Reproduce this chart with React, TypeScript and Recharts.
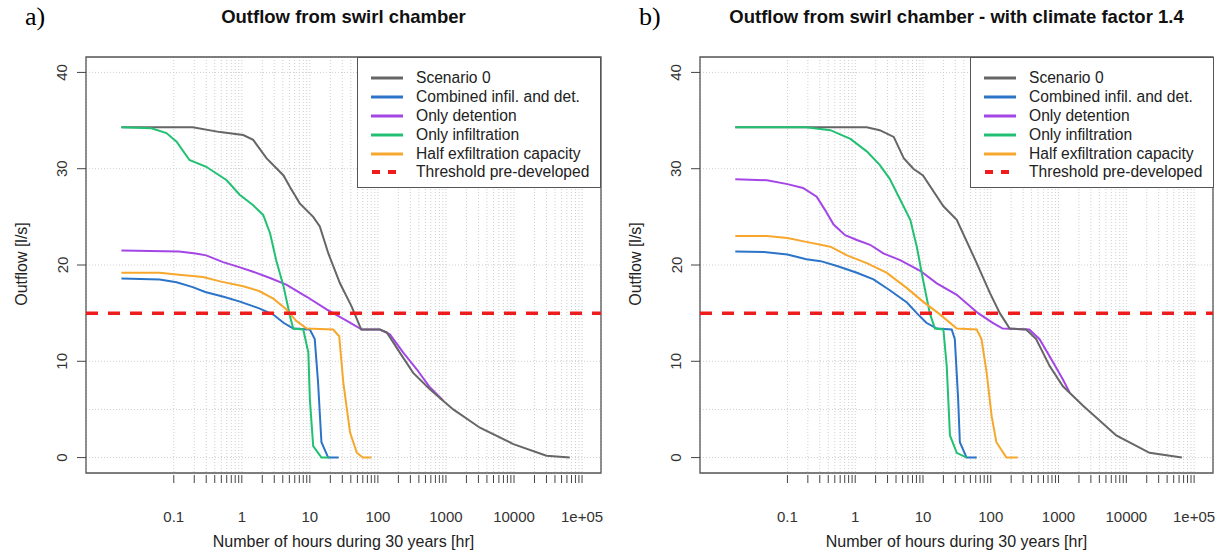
import React from 'react';
import { LineChart, Line, XAxis, YAxis, CartesianGrid, ReferenceLine, ReferenceArea, Legend } from 'recharts';

type Pt = [number, number];

// [hours, outflow l/s] read off panel a)
const scenario0A: Pt[] = [[0.017, 34.3], [0.19, 34.3], [0.48, 33.8], [1.05, 33.5], [1.47, 33.0], [2.3, 31.1], [4.1, 29.3], [5.1, 28.1], [7.1, 26.4], [11.2, 25.0], [14, 24.0], [18.7, 21.2], [27.7, 18.1], [41, 15.7], [57, 13.3], [107, 13.3], [135, 13.0], [210, 10.9], [330, 8.8], [580, 7.1], [1280, 5.0], [3160, 3.1], [9800, 1.4], [30000, 0.19], [66000, 0]];
const combinedA: Pt[] = [[0.017, 18.6], [0.062, 18.5], [0.11, 18.2], [0.19, 17.7], [0.29, 17.2], [0.54, 16.7], [0.94, 16.2], [1.8, 15.5], [2.9, 14.85], [4.1, 14.0], [5.7, 13.4], [10, 13.3], [11.8, 12.3], [13.2, 7.8], [14.8, 1.6], [18.6, 0], [26.5, 0]];
const detentionA: Pt[] = [[0.017, 21.5], [0.12, 21.4], [0.21, 21.2], [0.3, 21.0], [0.53, 20.3], [0.94, 19.75], [1.47, 19.3], [2.6, 18.65], [4.5, 17.96], [9, 16.7], [17.6, 15.4], [35, 14.2], [58, 13.3], [107, 13.3], [150, 12.8], [236, 10.9], [370, 9.2], [580, 7.3], [900, 5.95]];
const infiltrationA: Pt[] = [[0.017, 34.3], [0.047, 34.2], [0.078, 33.7], [0.11, 32.8], [0.17, 30.9], [0.3, 30.2], [0.6, 28.8], [0.93, 27.3], [1.47, 26.2], [2.06, 25.2], [2.6, 23.3], [3.2, 20.5], [4.1, 17.8], [5.1, 14.7], [5.7, 13.4], [8, 13.3], [9.5, 10.9], [10, 6.06], [11.2, 1.2], [14.8, 0], [19.4, 0]];
const halfA: Pt[] = [[0.017, 19.2], [0.062, 19.2], [0.12, 19.0], [0.27, 18.75], [0.48, 18.3], [1.05, 17.8], [1.8, 17.3], [2.9, 16.5], [4.5, 15.4], [6.3, 14.2], [9, 13.4], [22, 13.3], [27, 12.6], [31, 7.8], [39, 2.6], [49, 0.5], [60, 0], [80, 0]];

// panel b) climate factor 1.4
const scenario0B: Pt[] = [[0.017, 34.3], [1.48, 34.3], [2.3, 34.0], [3.7, 33.3], [5.2, 31.1], [7.2, 30.0], [10, 29.3], [20, 26.1], [31.5, 24.7], [62, 20.2], [97, 17.1], [136, 15.0], [190, 13.4], [333, 13.3], [467, 12.3], [740, 9.5], [1160, 7.4], [2280, 5.4], [7100, 2.3], [22000, 0.5], [66000, 0]];
const combinedB: Pt[] = [[0.017, 21.4], [0.045, 21.35], [0.1, 21.1], [0.19, 20.6], [0.31, 20.4], [0.54, 19.9], [1.06, 19.2], [1.86, 18.5], [3.2, 17.4], [5.8, 16.1], [8.1, 15.0], [11.2, 14.0], [16, 13.4], [26.5, 13.3], [29.5, 12.3], [33, 6.1], [35, 1.6], [44, 0], [62, 0]];
const detentionB: Pt[] = [[0.017, 28.9], [0.05, 28.8], [0.1, 28.4], [0.17, 28.0], [0.27, 27.1], [0.36, 25.7], [0.48, 24.2], [0.71, 23.1], [1.06, 22.6], [1.66, 22.1], [2.6, 21.2], [4.6, 20.5], [9.1, 19.4], [16, 18.1], [31.5, 16.9], [65, 15.0], [107, 14.0], [150, 13.4], [370, 13.3], [525, 12.3], [830, 9.9], [1160, 8.1], [1450, 6.8]];
const infiltrationB: Pt[] = [[0.017, 34.3], [0.19, 34.3], [0.43, 34.0], [0.85, 33.1], [1.48, 31.8], [2.3, 30.4], [3.2, 29.0], [4.6, 26.8], [6.5, 24.7], [8.1, 21.9], [10, 18.5], [12.6, 15.0], [15, 13.4], [20, 13.3], [22.4, 9.5], [25, 2.3], [31.5, 0.5], [44, 0]];
const halfB: Pt[] = [[0.017, 23.0], [0.05, 23.0], [0.1, 22.8], [0.19, 22.4], [0.43, 21.9], [0.76, 21.0], [1.48, 20.2], [2.9, 19.2], [5.8, 17.6], [10, 16.2], [17.6, 14.9], [31.5, 13.4], [62, 13.3], [73, 12.3], [87, 8.8], [103, 4.3], [121, 1.6], [170, 0], [250, 0]];

const seriesNames = ['Scenario 0', 'Combined infil. and det.', 'Only detention', 'Only infiltration', 'Half exfiltration capacity'];
const seriesColors = ['#666666', '#2c74c8', '#a446e6', '#22c073', '#f7a72c'];
const thresholdName = 'Threshold pre-developed';
const thresholdValue = 15;
const thresholdColor = '#ee1c1c';

const decades = [0.1, 1, 10, 100, 1000, 10000, 100000];
const decadeLabels = ['0.1', '1', '10', '100', '1000', '10000', '1e+05'];
const minorSteps = [1, 2, 3, 4, 5, 6, 7, 8, 9];
const yTicks = [0, 10, 20, 30, 40];
const yGrid = [0, 5, 10, 20, 30, 40];

const xDomain = [0.00513, 190000];
const yDomain = [-1.6, 41.6];

const xTicks = decades.flatMap((d) => (d === 100000 ? [d] : minorSteps.map((m) => +(d * m).toPrecision(6))));

const FONT = '"Liberation Sans", Arial, Helvetica, sans-serif';
const toRows = (pts: Pt[]) => pts.map(([h, q]) => ({ h, q }));

const XTick = ({ x, y, payload }: any) => {
  const i = decades.indexOf(payload.value);
  return (
    <g>
      <line x1={x} x2={x} y1={y + 2} y2={y + 10} stroke="#444" strokeWidth={1} />
      {i >= 0 && (
        <text x={x} y={y + 43} textAnchor="middle" dominantBaseline="central" fontSize={15} fill="#333" fontFamily={FONT}>
          {decadeLabels[i]}
        </text>
      )}
    </g>
  );
};

const YTick = ({ x, y, payload }: any) => {
  if (!yTicks.includes(payload.value)) return null;
  return (
    <g>
      <line x1={x - 9} x2={x} y1={y} y2={y} stroke="#444" strokeWidth={1} />
      <text x={x - 24} y={y} textAnchor="middle" dominantBaseline="central" fontSize={15} fill="#333" fontFamily={FONT} transform={`rotate(-90 ${x - 24} ${y})`}>
        {payload.value}
      </text>
    </g>
  );
};

const LegendBox = () => (
  <div style={{ width: 244, height: 131, border: '1px solid #555', background: '#fff', boxSizing: 'border-box', paddingTop: 10, fontFamily: FONT, fontSize: 15.6, color: '#222' }}>
    {seriesNames.map((name, i) => (
      <div key={name} style={{ position: 'relative', height: 18.9, lineHeight: '19px' }}>
        <svg width={34} height={19} style={{ position: 'absolute', left: 12, top: 0 }}>
          <line x1={1} x2={33} y1={10} y2={10} stroke={seriesColors[i]} strokeWidth={3} />
        </svg>
        <span style={{ position: 'absolute', left: 58, whiteSpace: 'nowrap' }}>{name}</span>
      </div>
    ))}
    <div style={{ position: 'relative', height: 19, lineHeight: '19px' }}>
      <svg width={34} height={19} style={{ position: 'absolute', left: 12, top: 0 }}>
        <line x1={2} x2={26} y1={10} y2={10} stroke={thresholdColor} strokeWidth={4} strokeDasharray="8 8" />
      </svg>
      <span style={{ position: 'absolute', left: 58, whiteSpace: 'nowrap' }}>{thresholdName}</span>
    </div>
  </div>
);

type PanelProps = {
  left: number;
  width: number;
  marginLeft: number;
  marginRight: number;
  tag: string;
  title: string;
  series: Pt[][];
  legendLeft: number;
};

const drawOrder = [2, 0, 1, 3, 4];

const Panel = ({ left, width, marginLeft, marginRight, tag, title, series, legendLeft }: PanelProps) => {
  const plotLeft = marginLeft + 56;
  const plotRight = width - marginRight;
  const cx = (plotLeft + plotRight) / 2;
  return (
    <div style={{ position: 'absolute', left, top: 0, width, height: 554 }}>
      <LineChart width={width} height={554} margin={{ top: 57, right: marginRight, bottom: 31, left: marginLeft }}>
        <CartesianGrid stroke="#cfcfcf" strokeDasharray="1 2" />
        <XAxis dataKey="h" type="number" scale="log" domain={xDomain} allowDataOverflow ticks={xTicks} interval={0} tick={<XTick />} tickSize={0} tickMargin={0} axisLine={false} tickLine={false} height={50} />
        <YAxis type="number" domain={yDomain} allowDataOverflow ticks={yGrid} interval={0} tick={<YTick />} tickSize={0} tickMargin={0} axisLine={false} tickLine={false} width={56} />
        <ReferenceArea x1={xDomain[0]} x2={xDomain[1]} y1={yDomain[0]} y2={yDomain[1]} fill="none" stroke="#555" strokeWidth={1.3} fillOpacity={0} />
        {drawOrder.map((i) => (
          <Line key={seriesNames[i]} data={toRows(series[i])} dataKey="q" name={seriesNames[i]} type="linear" stroke={seriesColors[i]} strokeWidth={2} dot={false} activeDot={false} isAnimationActive={false} />
        ))}
        <ReferenceLine y={thresholdValue} stroke={thresholdColor} strokeWidth={3.5} strokeDasharray="12 10" />
        <Legend layout="horizontal" verticalAlign="middle" align="center" content={() => <LegendBox />} wrapperStyle={{ left: legendLeft, top: 57, width: 244, height: 131 }} />
      </LineChart>
      <div style={{ position: 'absolute', left: cx - 300, width: 600, top: 6, textAlign: 'center', fontFamily: FONT, fontWeight: 'bold', fontSize: 18.5, color: '#111' }}>{title}</div>
      <div style={{ position: 'absolute', left: cx - 250, width: 500, top: 533, textAlign: 'center', fontFamily: FONT, fontSize: 16, color: '#222' }}>Number of hours during 30 years [hr]</div>
      <div style={{ position: 'absolute', left: marginLeft - 8 - 100, top: 265 - 10, width: 200, textAlign: 'center', fontFamily: FONT, fontSize: 16, color: '#222', transform: 'rotate(-90deg)' }}>Outflow [l/s]</div>
      <div style={{ position: 'absolute', left: marginLeft - 5, top: 2, fontFamily: '"Liberation Serif", "Times New Roman", serif', fontSize: 26, color: '#000' }}>{tag}</div>
    </div>
  );
};

export default function App() {
  return (
    <div style={{ position: 'absolute', left: 0, top: 0, width: 1223, height: 554, background: '#fff' }}>
      <Panel left={0} width={612} marginLeft={30} marginRight={11} tag="a)" title="Outflow from swirl chamber" series={[scenario0A, combinedA, detentionA, infiltrationA, halfA]} legendLeft={357} />
      <Panel left={612} width={611} marginLeft={32} marginRight={10} tag="b)" title="Outflow from swirl chamber - with climate factor 1.4" series={[scenario0B, combinedB, detentionB, infiltrationB, halfB]} legendLeft={358} />
    </div>
  );
}
